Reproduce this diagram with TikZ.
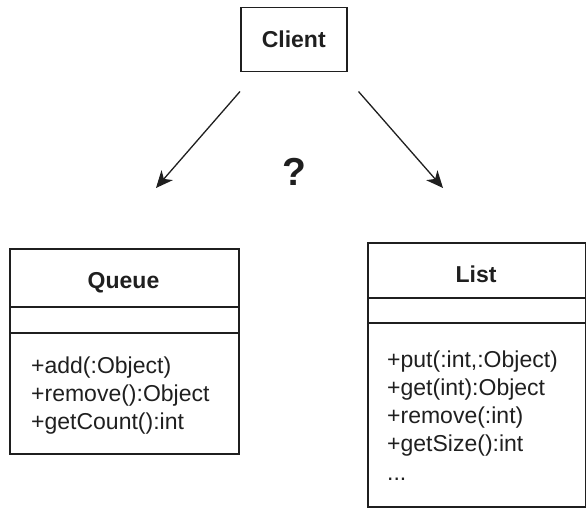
\documentclass[tikz,border=0pt]{standalone}
\usepackage{fontspec}
\setmainfont{Liberation Sans}
\usetikzlibrary{positioning}
\usetikzlibrary{arrows.meta}

\tikzset{
  box/.style={draw=black!88, line width=1.5pt, inner sep=0pt, anchor=north west},
  heading/.style={font=\fontsize{23}{28}\selectfont\bfseries, text=black!88},
  op/.style={font=\fontsize{23}{28}\selectfont, text=black!88, inner sep=0pt, anchor=base west},
  link/.style={line width=1.3pt, draw=black!88, -{Stealth[length=17pt,width=15pt,inset=5pt]}}
}

\begin{document}
\begin{tikzpicture}[x=1pt,y=-1pt]
    \useasboundingbox (0,0) rectangle (586,508);

    % client
    \node[box, heading, minimum width=106pt, minimum height=64pt] (client) at (240,7) {Client};

    % the two classes
    \node[box, minimum width=229pt, minimum height=205pt] (queue) at (9,248) {};
    \node[box, minimum width=218pt, minimum height=264pt] (list) at (367,242) {};

    \node[heading, anchor=base] (queuename) at (123.5,288) {Queue};
    \node[heading, anchor=base] (listname) at (476,282) {List};

    \draw[black!88, line width=1.5pt] (queue.north west) ++(0,59) -- ++(229,0);
    \draw[black!88, line width=1.5pt] (queue.north west) ++(0,85) -- ++(229,0);
    \draw[black!88, line width=1.5pt] (list.north west) ++(0,56) -- ++(218,0);
    \draw[black!88, line width=1.5pt] (list.north west) ++(0,81) -- ++(218,0);

    \foreach \txt [count=\i] in {{+add(:Object)}, {+remove():Object}, {+getCount():int}}
        \node[op] (qop\i) at (31,373+28.3*\i-28.3) {\txt};
    \foreach \txt [count=\i] in {{+put(:int,:Object)}, {+get(int):Object}, {+remove(:int)}, {+getSize():int}}
        \node[op] (lop\i) at (387,367+28.3*\i-28.3) {\txt};
    \node[op] (lopmore) at (387,480) {...};

    % arrows
    \coordinate (qtip) at (156,188);
    \coordinate (ltip) at (443,188);
    \draw[link] ([yshift=-19pt]client.south west) -- (qtip);
    \draw[link] ([xshift=11pt,yshift=-19pt]client.south east) -- (ltip);

    \node[font=\fontsize{39}{39}\selectfont\bfseries, text=black!88] (ask) at (294,172) {?};
\end{tikzpicture}
\end{document}
